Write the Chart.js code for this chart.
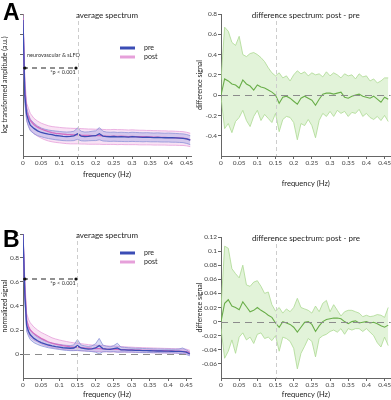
<!DOCTYPE html>
<html><head><meta charset="utf-8">
<script src="https://cdn.jsdelivr.net/npm/chart.js@4.4.0/dist/chart.umd.min.js"></script>
<style>
html,body{margin:0;padding:0;background:#fff;}
#wrap{position:relative;width:391px;height:400px;overflow:hidden;}
canvas{position:absolute;}
.lbl{position:absolute;font-family:"Liberation Sans",Arial,sans-serif;font-weight:bold;font-size:23px;line-height:23px;color:#000;}
</style></head><body>
<div id="wrap">
<canvas id="c1" width="195" height="195" style="left:0;top:0"></canvas>
<canvas id="c2" width="196" height="195" style="left:195px;top:0"></canvas>
<canvas id="c3" width="195" height="205" style="left:0;top:195px"></canvas>
<canvas id="c4" width="196" height="205" style="left:195px;top:195px"></canvas>
<div class="lbl" style="left:3px;top:1px">A</div>
<div class="lbl" style="left:3px;top:228px">B</div>
</div>
<script>
// ---------- data ----------
const fL = [0,0.005,0.01,0.015,0.02,
 0.03,0.04,0.05,0.06,0.07,0.08,0.09,0.10,0.11,0.12,
 0.13,0.14,0.15,0.16,0.17,0.18,0.19,0.20,0.21,0.22,
 0.23,0.24,0.25,0.26,0.27,0.28,0.29,0.30,0.31,0.32,
 0.33,0.34,0.35,0.36,0.37,0.38,0.39,0.40,0.41,0.42,
 0.43,0.44,0.45,0.46];
const fR = [0,0.01,0.02,0.03,0.04,0.05,0.06,0.07,0.08,0.09,
 0.10,0.11,0.12,0.13,0.14,0.15,0.16,0.17,0.18,0.19,
 0.20,0.21,0.22,0.23,0.24,0.25,0.26,0.27,0.28,0.29,
 0.30,0.31,0.32,0.33,0.34,0.35,0.36,0.37,0.38,0.39,
 0.40,0.41,0.42,0.43,0.44,0.45,0.46];

// Panel A, average spectrum (log transformed amplitude, a.u.)
const aPreMean = [6.7,3.0,2.05,1.75,1.52,
 1.36,1.24,1.16,1.12,1.08,1.05,1.01,0.99,0.97,0.96,
 0.97,0.99,1.10,0.98,0.96,0.97,0.99,1.00,1.10,0.98,
 0.96,0.95,0.96,0.94,0.95,0.94,0.93,0.95,0.94,0.93,
 0.92,0.93,0.92,0.91,0.92,0.91,0.90,0.91,0.90,0.89,
 0.88,0.87,0.84,0.78];
const aPreHi = [6.9,3.4,2.4,2.05,1.82,
 1.62,1.48,1.38,1.32,1.28,1.25,1.23,1.21,1.19,1.18,
 1.19,1.22,1.38,1.22,1.18,1.19,1.22,1.24,1.40,1.22,
 1.18,1.17,1.18,1.16,1.17,1.16,1.15,1.17,1.16,1.15,
 1.14,1.15,1.14,1.13,1.14,1.13,1.12,1.13,1.12,1.11,
 1.10,1.09,1.06,1.00];
const aPreLo = [6.5,2.6,1.75,1.45,1.25,
 1.10,1.00,0.95,0.90,0.86,0.83,0.80,0.78,0.76,0.75,
 0.75,0.76,0.82,0.75,0.74,0.75,0.76,0.76,0.80,0.74,
 0.73,0.72,0.73,0.72,0.72,0.71,0.71,0.72,0.71,0.71,
 0.70,0.71,0.70,0.70,0.70,0.69,0.69,0.69,0.68,0.68,
 0.67,0.66,0.62,0.56];
const aPostMean = [6.8,3.3,2.2,1.95,1.75,
 1.55,1.42,1.33,1.26,1.20,1.15,1.12,1.10,1.08,1.06,
 1.05,1.04,1.05,1.03,1.02,1.01,1.00,1.00,1.01,0.99,
 0.98,0.97,0.98,0.97,0.98,0.97,0.96,0.97,0.96,0.95,
 0.95,0.94,0.94,0.93,0.93,0.92,0.92,0.91,0.91,0.90,
 0.89,0.88,0.85,0.80];
const aPostHi = [7.0,3.8,2.6,2.35,2.1,
 1.86,1.72,1.62,1.55,1.49,1.45,1.43,1.41,1.39,1.38,
 1.37,1.36,1.36,1.35,1.34,1.33,1.33,1.32,1.33,1.31,
 1.30,1.30,1.31,1.30,1.30,1.29,1.28,1.29,1.28,1.27,
 1.27,1.26,1.26,1.25,1.25,1.24,1.24,1.23,1.23,1.22,
 1.21,1.20,1.17,1.12];
const aPostLo = [6.6,2.8,1.75,1.5,1.3,
 1.10,0.98,0.88,0.80,0.74,0.70,0.67,0.65,0.63,0.61,
 0.60,0.60,0.60,0.59,0.59,0.58,0.58,0.58,0.58,0.57,
 0.57,0.57,0.57,0.56,0.57,0.56,0.56,0.56,0.56,0.55,
 0.55,0.55,0.55,0.54,0.54,0.54,0.54,0.53,0.53,0.53,
 0.52,0.52,0.50,0.46];

// Panel A, difference spectrum
const aDiffMean = [0.0,0.16,0.14,0.11,0.10,0.07,0.15,0.11,0.09,0.05,
 0.10,0.08,0.07,0.05,0.03,0.00,-0.08,-0.02,-0.01,-0.03,
 -0.06,-0.09,-0.03,-0.01,-0.03,-0.05,-0.10,-0.04,0.01,0.02,
 0.02,0.01,0.02,0.03,-0.02,-0.03,-0.01,0.00,0.01,-0.01,
 -0.02,-0.03,-0.01,-0.04,-0.07,-0.02,-0.04];
const aDiffHi = [0.15,0.67,0.63,0.52,0.49,0.58,0.40,0.38,0.41,0.42,
 0.40,0.37,0.33,0.27,0.22,0.19,0.22,0.17,0.19,0.14,
 0.20,0.24,0.21,0.23,0.19,0.22,0.20,0.21,0.18,0.23,
 0.19,0.22,0.20,0.17,0.21,0.19,0.20,0.16,0.21,0.18,
 0.19,0.14,0.16,0.12,0.14,0.17,0.17];
const aDiffLo = [-0.02,-0.33,-0.28,-0.37,-0.26,-0.22,-0.15,-0.25,-0.31,-0.21,
 -0.15,-0.25,-0.19,-0.23,-0.27,-0.18,-0.36,-0.24,-0.21,-0.22,
 -0.27,-0.44,-0.28,-0.30,-0.24,-0.30,-0.42,-0.25,-0.18,-0.21,
 -0.16,-0.21,-0.15,-0.18,-0.16,-0.21,-0.17,-0.18,-0.14,-0.21,
 -0.18,-0.22,-0.24,-0.21,-0.25,-0.20,-0.26];

// Panel B, average spectrum (normalized signal)
const bPreMean = [1.0,0.50,0.24,0.19,0.16,
 0.13,0.11,0.095,0.085,0.075,0.068,0.062,0.058,0.052,0.050,
 0.048,0.050,0.070,0.050,0.045,0.040,0.042,0.050,0.070,0.045,
 0.040,0.038,0.045,0.050,0.035,0.035,0.033,0.032,0.030,0.030,
 0.028,0.028,0.027,0.026,0.025,0.025,0.024,0.024,0.023,0.022,
 0.022,0.020,0.015,0.0];
const bPreHi = [1.0,0.56,0.29,0.23,0.20,
 0.165,0.14,0.125,0.11,0.10,0.09,0.085,0.08,0.075,0.072,
 0.07,0.075,0.12,0.075,0.068,0.063,0.068,0.085,0.13,0.075,
 0.065,0.06,0.07,0.09,0.058,0.055,0.052,0.05,0.048,0.048,
 0.046,0.045,0.044,0.043,0.042,0.042,0.041,0.041,0.040,0.040,
 0.042,0.050,0.035,0.015];
const bPreLo = [1.0,0.44,0.19,0.15,0.12,
 0.095,0.08,0.068,0.06,0.052,0.047,0.042,0.038,0.033,0.03,
 0.028,0.028,0.03,0.027,0.025,0.022,0.02,0.015,0.0,0.018,
 0.02,0.018,0.02,0.015,0.016,0.017,0.016,0.016,0.014,0.014,
 0.012,0.012,0.012,0.011,0.011,0.010,0.010,0.009,0.009,0.008,
 0.006,0.0,-0.005,-0.015];
const bPostMean = [1.0,0.55,0.28,0.23,0.20,
 0.17,0.15,0.13,0.115,0.10,0.09,0.082,0.076,0.07,0.065,
 0.06,0.057,0.055,0.053,0.05,0.048,0.046,0.045,0.045,0.043,
 0.041,0.04,0.04,0.038,0.037,0.036,0.035,0.034,0.033,0.032,
 0.031,0.03,0.03,0.029,0.028,0.028,0.027,0.026,0.025,0.024,
 0.023,0.022,0.02,0.012];
const bPostHi = [1.0,0.62,0.34,0.29,0.26,
 0.225,0.2,0.18,0.165,0.15,0.135,0.125,0.117,0.11,0.104,
 0.098,0.093,0.09,0.086,0.082,0.078,0.075,0.073,0.072,0.07,
 0.068,0.066,0.066,0.064,0.062,0.06,0.058,0.057,0.055,0.054,
 0.053,0.052,0.051,0.05,0.049,0.048,0.047,0.046,0.045,0.044,
 0.043,0.042,0.04,0.03];
const bPostLo = [1.0,0.48,0.22,0.17,0.14,
 0.115,0.1,0.085,0.072,0.062,0.055,0.048,0.043,0.038,0.035,
 0.032,0.03,0.028,0.027,0.025,0.024,0.022,0.021,0.02,0.019,
 0.018,0.017,0.017,0.016,0.015,0.015,0.014,0.014,0.013,0.012,
 0.012,0.011,0.011,0.01,0.01,0.009,0.009,0.008,0.008,0.007,
 0.006,0.005,0.003,-0.005];

// Panel B, difference spectrum
const bDiffMean = [0.0,0.026,0.031,0.022,0.020,0.017,0.028,0.021,0.014,0.016,
 0.020,0.016,0.013,0.009,0.006,-0.002,-0.008,0.000,-0.002,-0.004,
 -0.008,-0.015,-0.008,-0.001,0.000,-0.004,-0.014,-0.006,0.000,0.003,
 0.004,0.005,0.005,0.004,0.000,-0.003,0.000,0.001,-0.002,-0.001,
 0.000,-0.002,-0.001,-0.003,-0.006,-0.008,-0.005];
const bDiffHi = [0.02,0.107,0.104,0.075,0.068,0.062,0.080,0.052,0.050,0.056,
 0.058,0.050,0.040,0.042,0.024,0.015,0.020,0.012,0.018,0.014,
 0.020,0.033,0.020,0.018,0.016,0.012,0.022,0.014,0.026,0.030,
 0.014,0.024,0.016,0.008,0.014,0.016,0.016,0.014,0.012,0.007,
 0.009,0.007,0.008,0.010,0.009,0.006,0.020];
const bDiffLo = [-0.01,-0.052,-0.042,-0.026,-0.045,-0.022,-0.016,-0.026,-0.022,-0.031,
 -0.018,-0.016,-0.024,-0.022,-0.027,-0.020,-0.042,-0.022,-0.024,-0.028,
 -0.038,-0.067,-0.045,-0.035,-0.024,-0.028,-0.050,-0.024,-0.020,-0.018,
 -0.014,-0.012,-0.015,-0.010,-0.018,-0.010,-0.012,-0.010,-0.010,-0.014,
 -0.010,-0.015,-0.020,-0.030,-0.036,-0.022,-0.034];

// tick labels & texts
const xTickVals = [0,0.05,0.1,0.15,0.2,0.25,0.3,0.35,0.4,0.45];
const xTickLabels = ['0','0.05','0.1','0.15','0.2','0.25','0.3','0.35','0.4','0.45'];
const aLeftYTicks = [1,2,3,4,5,6,7];
const aRightYTicks = [-0.4,-0.2,0,0.2,0.4,0.6,0.8];
const aRightYLabels = ['-0.4','-0.2','0','0.2','0.4','0.6','0.8'];
const bLeftYTicks = [0,0.2,0.4,0.6,0.8,1];
const bLeftYLabels = ['0','0.2','0.4','0.6','0.8','1'];
const bRightYTicks = [-0.06,-0.04,-0.02,0,0.02,0.04,0.06,0.08,0.1,0.12];
const bRightYLabels = ['-0.06','-0.04','-0.02','0','0.02','0.04','0.06','0.08','0.1','0.12'];
const seriesNames = ['pre','post'];
const panelTitles = ['average spectrum','difference spectrum: post - pre'];
const sigText = '*p < 0.001';
const bandText = 'neurovascular & sLFO';

// ---------- drawing ----------
const FONT = 'Lato, "Open Sans", sans-serif';
Chart.defaults.font.family = FONT;
const C = {
  pre:'#3b4db5', preEdge:'#8e96d8', preFill:'rgba(120,128,215,0.28)',
  post:'#d36cc0', postEdge:'#e6a0da', postFill:'rgba(236,165,222,0.32)',
  diff:'#6aae4a', diffEdge:'#acd992', diffFill:'rgba(172,220,145,0.35)',
  axis:'#666', tick:'#444', text:'#222'
};
function pts(xs, ys){ return xs.map((x,i)=>({x:x, y:ys[i]})); }
function line(xs, ys, color, w, order, label){
  return {label:label, data:pts(xs,ys), borderColor:color, borderWidth:w, pointRadius:0, fill:false, order:order};
}
function band(xs, hi, lo, edge, fill, order, label){
  return [
    {label:label+' upper', data:pts(xs,hi), borderColor:edge, borderWidth:0.8, backgroundColor:fill, fill:'+1', pointRadius:0, order:order},
    {label:label+' lower', data:pts(xs,lo), borderColor:edge, borderWidth:0.8, fill:false, pointRadius:0, order:order}
  ];
}
function xScale(max, h, titlePad){
  return {type:'linear', min:0, max:max,
    afterBuildTicks:s=>{ s.ticks = xTickVals.map(v=>({value:v})); },
    afterFit:s=>{ s.height = h; },
    ticks:{autoSkip:false, maxRotation:0, padding:0, font:{size:6.5}, color:C.tick, callback:(v,i)=>xTickLabels[i]},
    grid:{drawOnChartArea:false, drawTicks:true, tickLength:3, color:C.axis},
    border:{display:true, color:C.axis, width:1},
    title:{display:true, text:'frequency (Hz)', font:{size:7.5}, color:C.text, padding:{top:0,bottom:titlePad}}
  };
}
function yScale(min, max, vals, labels, w, title){
  return {type:'linear', min:min, max:max,
    afterBuildTicks:s=>{ s.ticks = vals.map(v=>({value:v})); },
    afterFit:s=>{ s.width = w; },
    ticks:{display:!!labels, autoSkip:false, padding:1, font:{size:6.5}, color:C.tick, callback:(v,i)=>labels?labels[i]:''},
    grid:{drawOnChartArea:false, drawTicks:true, tickLength:3, color:C.axis},
    border:{display:true, color:C.axis, width:1},
    title:{display:true, text:title, font:{size:7}, color:C.text, padding:{top:1,bottom:0}}
  };
}
const decor = {
  id:'decor',
  afterDatasetsDraw(chart, args, o){
    const ctx = chart.ctx, ca = chart.chartArea, xs = chart.scales.x, ys = chart.scales.y;
    ctx.save();
    // vertical dashed marker
    const vx = Math.round(xs.getPixelForValue(0.15)) + 0.5;
    ctx.strokeStyle = '#cdcdcd'; ctx.lineWidth = 1; ctx.setLineDash([4,3]);
    ctx.beginPath(); ctx.moveTo(vx, ca.top); ctx.lineTo(vx, ca.bottom); ctx.stroke();
    // zero line
    if (o.zero){
      const zy = Math.round(ys.getPixelForValue(0)) + 0.5;
      ctx.strokeStyle = '#8c8c8c'; ctx.lineWidth = 1.1; ctx.setLineDash([7,5]);
      ctx.beginPath(); ctx.moveTo(ca.left, zy); ctx.lineTo(ca.right, zy); ctx.stroke();
    }
    ctx.setLineDash([]);
    // panel title
    ctx.fillStyle = C.text; ctx.textAlign = 'center'; ctx.textBaseline = 'middle';
    ctx.font = '8px ' + FONT;
    ctx.fillText(o.title, (ca.left+ca.right)/2, ca.top + 1);
    // legend
    if (o.legend){
      const L = o.legend;
      ctx.lineWidth = 3;
      ctx.strokeStyle = C.pre; ctx.beginPath(); ctx.moveTo(L.x1, L.y1); ctx.lineTo(L.x2, L.y1); ctx.stroke();
      ctx.strokeStyle = C.postEdge; ctx.beginPath(); ctx.moveTo(L.x1, L.y2); ctx.lineTo(L.x2, L.y2); ctx.stroke();
      ctx.textAlign = 'left'; ctx.font = '7px ' + FONT; ctx.fillStyle = C.text;
      ctx.fillText(seriesNames[0], L.tx, L.y1);
      ctx.fillText(seriesNames[1], L.tx, L.y2);
    }
    // significance arrow
    if (o.arrow){
      const A = o.arrow;
      ctx.strokeStyle = '#222'; ctx.lineWidth = 1; ctx.setLineDash([5,4]);
      ctx.beginPath(); ctx.moveTo(A.x1, A.y); ctx.lineTo(A.x2, A.y); ctx.stroke();
      ctx.setLineDash([]); ctx.fillStyle = '#111';
      [A.x1+2, A.x2-1].forEach(x=>{ ctx.beginPath(); ctx.arc(x, A.y, 1.6, 0, Math.PI*2); ctx.fill(); });
      ctx.font = '5.5px ' + FONT; ctx.textAlign = 'center'; ctx.fillStyle = '#333';
      ctx.fillText(sigText, A.tx, A.ty);
      if (A.label){ ctx.textAlign = 'left'; ctx.fillText(bandText, A.lx, A.ly); }
    }
    ctx.restore();
  }
};
function baseOpts(pad, scales, deco){
  return {responsive:false, animation:false, events:[],
    layout:{padding:pad}, scales:scales,
    plugins:{legend:{display:false}, tooltip:{enabled:false}, decor:deco}};
}
// A left
new Chart(document.getElementById('c1'), {type:'line',
  data:{datasets:[
    ...band(fL, aPostHi, aPostLo, C.postEdge, C.postFill, 5, 'post'),
    ...band(fL, aPreHi, aPreLo, C.preEdge, C.preFill, 4, 'pre'),
    line(fL, aPostMean, C.post, 1.3, 2, 'post'),
    line(fL, aPreMean, C.pre, 1.3, 1, 'pre')]},
  options:baseOpts({top:14,right:4,left:0,bottom:0},
    {x:xScale(0.462, 39, 16), y:yScale(0, 7, aLeftYTicks, null, 23, 'log transformed amplitude (a.u.)')},
    {title:panelTitles[0], legend:{x1:120,x2:135,tx:144,y1:48,y2:57},
     arrow:{x1:23,x2:77,y:68,tx:63,ty:72,label:true,lx:27,ly:55}}),
  plugins:[decor]});
// A right
new Chart(document.getElementById('c2'), {type:'line',
  data:{datasets:[
    ...band(fR, aDiffHi, aDiffLo, C.diffEdge, C.diffFill, 3, 'difference'),
    line(fR, aDiffMean, C.diff, 1.1, 1, 'post - pre')]},
  options:baseOpts({top:14,right:0,left:0,bottom:0},
    {x:xScale(0.4665, 39, 7), y:yScale(-0.6, 0.8, aRightYTicks, aRightYLabels, 26, 'difference signal')},
    {title:panelTitles[1], zero:true}),
  plugins:[decor]});
// B left
new Chart(document.getElementById('c3'), {type:'line',
  data:{datasets:[
    ...band(fL, bPostHi, bPostLo, C.postEdge, C.postFill, 5, 'post'),
    ...band(fL, bPreHi, bPreLo, C.preEdge, C.preFill, 4, 'pre'),
    line(fL, bPostMean, C.post, 1.3, 2, 'post'),
    line(fL, bPreMean, C.pre, 1.3, 1, 'pre')]},
  options:baseOpts({top:39,right:4,left:0,bottom:0},
    {x:xScale(0.463, 22, 1), y:yScale(-0.2, 1, bLeftYTicks, bLeftYLabels, 23, 'normalized signal')},
    {title:panelTitles[0], zero:true, legend:{x1:120,x2:135,tx:144,y1:58,y2:67},
     arrow:{x1:23,x2:77,y:84,tx:63,ty:88,label:false}}),
  plugins:[decor]});
// B right
new Chart(document.getElementById('c4'), {type:'line',
  data:{datasets:[
    ...band(fR, bDiffHi, bDiffLo, C.diffEdge, C.diffFill, 3, 'difference'),
    line(fR, bDiffMean, C.diff, 1.1, 1, 'post - pre')]},
  options:baseOpts({top:42,right:0,left:0,bottom:0},
    {x:xScale(0.467, 22, 1), y:yScale(-0.08, 0.12, bRightYTicks, bRightYLabels, 26, 'difference signal')},
    {title:panelTitles[1], zero:true}),
  plugins:[decor]});
</script>
</body></html>
